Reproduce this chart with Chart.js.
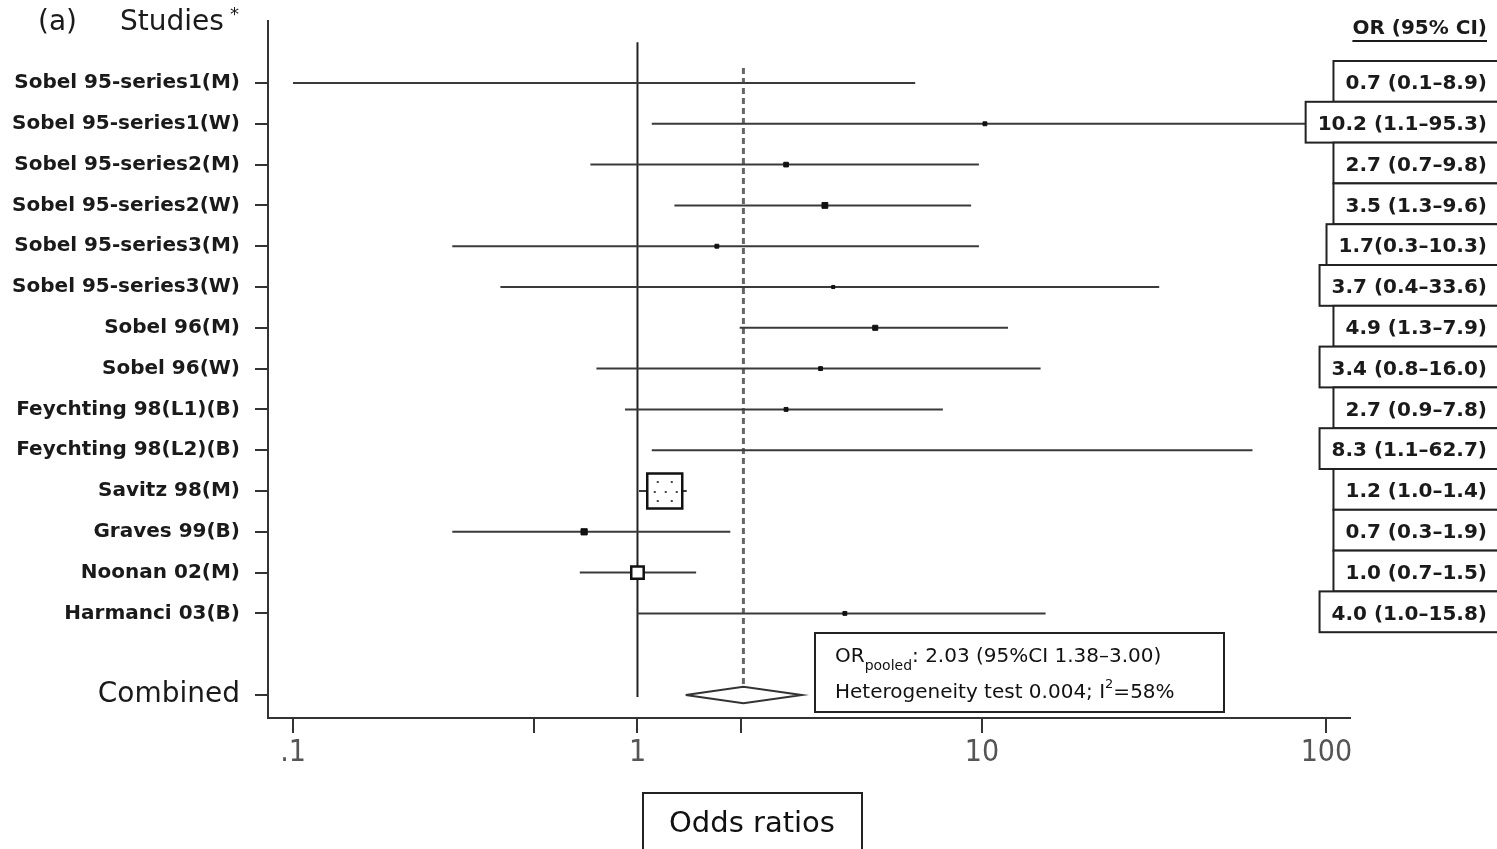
<!DOCTYPE html>
<html>
<head>
<meta charset="utf-8">
<script src="https://cdn.jsdelivr.net/npm/chart.js@4/dist/chart.umd.min.js"></script>
<style>
  html, body { margin: 0; padding: 0; background: #fff; }
  #wrap { width: 1497px; height: 849px; position: relative; }
</style>
</head>
<body>
<div id="wrap"><canvas id="forestChart"></canvas></div>
<script>
// Study rows (top to bottom)
const studies = [
    'Sobel 95-series1(M)', 'Sobel 95-series1(W)', 'Sobel 95-series2(M)', 'Sobel 95-series2(W)',
    'Sobel 95-series3(M)', 'Sobel 95-series3(W)', 'Sobel 96(M)', 'Sobel 96(W)',
    'Feychting 98(L1)(B)', 'Feychting 98(L2)(B)', 'Savitz 98(M)', 'Graves 99(B)',
    'Noonan 02(M)', 'Harmanci 03(B)'
];
const orLabels = [
    '0.7 (0.1\u20138.9)', '10.2 (1.1\u201395.3)', '2.7 (0.7\u20139.8)', '3.5 (1.3\u20139.6)',
    '1.7(0.3\u201310.3)', '3.7 (0.4\u201333.6)', '4.9 (1.3\u20137.9)', '3.4 (0.8\u201316.0)',
    '2.7 (0.9\u20137.8)', '8.3 (1.1\u201362.7)', '1.2 (1.0\u20131.4)', '0.7 (0.3\u20131.9)',
    '1.0 (0.7\u20131.5)', '4.0 (1.0\u201315.8)'
];
// values as drawn in the plot
const orValues = [0.7, 10.2, 2.7, 3.5, 1.7, 3.7, 4.9, 3.4, 2.7, 8.3, 1.2, 0.7, 1.0, 4.0];
const ciLower  = [0.1, 1.1, 0.73, 1.28, 0.29, 0.40, 1.98, 0.76, 0.92, 1.1, 1.01, 0.29, 0.68, 1.0];
const ciUpper  = [6.4, 95.3, 9.8, 9.3, 9.8, 32.7, 11.9, 14.8, 7.7, 61, 1.39, 1.86, 1.48, 15.3];
const boxWeights = [0, 1, 1.2, 1.5, 1, 0.8, 1.3, 1, 1, 0, 9, 1.6, 3.2, 1];

const pooledOR = 2.03;
const pooledLower = 1.38;
const pooledUpper = 3.00;

const xTickValues = [0.1, 0.5, 1, 2, 10, 100];
const xTickLabels = ['.1', '', '1', '', '10', '100'];

const COMBINED_ROW = 15;

document.addEventListener('DOMContentLoaded', function () {
    const canvas = document.getElementById('forestChart');
    const ctx = canvas.getContext('2d');

    const rowTicks = studies.map((s, i) => i).concat([COMBINED_ROW]);

    // one dataset per confidence interval
    const ciSets = studies.map((s, i) => ({
        label: s,
        data: [{ x: ciLower[i], y: i }, { x: ciUpper[i], y: i }],
        showLine: true,
        borderColor: '#3a3a3a',
        borderWidth: 2,
        pointRadius: 0
    }));

    // pin the row grid: first row 83px from the top, 40.8px per row
    const rowLayout = {
        id: 'rowLayout',
        afterLayout(chart) {
            const a = chart.chartArea;
            const ys = chart.scales.y;
            const pitch = 40.8;
            ys.min = -(83 - a.top) / pitch;
            ys.max = ys.min + (a.bottom - a.top) / pitch;
            ys.configure();
        }
    };

    // OR text boxes at the right, the header and the notes
    const textPlugin = {
        id: 'forestText',
        afterDatasetsDraw(chart) {
            const c = chart.ctx;
            const y = chart.scales.y;
            const xs = chart.scales.x;
            const area = chart.chartArea;
            c.save();

            // left axis line runs a little above the plot area
            c.fillStyle = '#333';
            if (area.top > 20) c.fillRect(area.left - 1, 20, 2, area.top - 20 + 1);

            // speckle inside the large Savitz box
            const sx = xs.getPixelForValue(orValues[10]);
            const sy = y.getPixelForValue(10);
            c.fillStyle = '#444';
            [[-8, -10], [6, -10], [-11, 0], [0, 0], [11, 0], [-8, 9], [6, 9]].forEach(d => {
                c.fillRect(sx + d[0], sy + d[1], 2, 2);
            });

            c.textBaseline = 'middle';

            // per-study OR boxes
            c.font = 'bold 20px "DejaVu Sans"';
            c.textAlign = 'right';
            studies.forEach((s, i) => {
                const py = y.getPixelForValue(i);
                const w = c.measureText(orLabels[i]).width;
                const left = 1487 - w - 12;
                c.fillStyle = '#fff';
                c.strokeStyle = '#222';
                c.lineWidth = 2;
                c.fillRect(left, py - 22, 1510 - left, 40.8);
                c.strokeRect(left, py - 22, 1510 - left, 40.8);
                c.fillStyle = '#1a1a1a';
                c.fillText(orLabels[i], 1487, py + 1);
            });

            // header
            c.font = 'bold 20px "DejaVu Sans"';
            c.fillText('OR (95% CI)', 1487, 29);
            const hw = c.measureText('OR (95% CI)').width;
            c.fillRect(1487 - hw, 40, hw, 2);

            c.textAlign = 'left';
            c.font = '28px "DejaVu Sans"';
            c.fillText('(a)', 38, 23);
            c.fillText('Studies', 120, 23);
            c.font = '18px "DejaVu Sans"';
            c.fillText('*', 230, 15);

            // pooled estimate note
            c.fillStyle = '#fff';
            c.fillRect(815, 633, 409, 79);
            c.strokeStyle = '#222';
            c.strokeRect(815, 633, 409, 79);
            c.fillStyle = '#111';
            c.textBaseline = 'alphabetic';
            let x = 835;
            c.font = '20px "DejaVu Sans"';
            c.fillText('OR', x, 662);
            x += c.measureText('OR').width;
            c.font = '14px "DejaVu Sans"';
            c.fillText('pooled', x, 670);
            x += c.measureText('pooled').width;
            c.font = '20px "DejaVu Sans"';
            c.fillText(': ' + pooledOR.toFixed(2) + ' (95%CI ' + pooledLower.toFixed(2) + '\u2013' + pooledUpper.toFixed(2) + ')', x, 662);
            x = 835;
            const part1 = 'Heterogeneity test 0.004; I';
            c.fillText(part1, x, 698);
            x += c.measureText(part1).width;
            c.font = '13px "DejaVu Sans"';
            c.fillText('2', x, 688);
            x += c.measureText('2').width;
            c.font = '20px "DejaVu Sans"';
            c.fillText('=58%', x, 698);

            // axis title box
            c.strokeRect(643, 793, 219, 70);
            c.font = '29px "DejaVu Sans"';
            c.textAlign = 'center';
            c.textBaseline = 'middle';
            c.fillText('Odds ratios', 752, 824);
            c.restore();
        }
    };

    new Chart(ctx, {
        type: 'scatter',
        data: {
            datasets: [
                {
                    label: 'OR',
                    data: orValues.map((v, i) => ({ x: v, y: i })),
                    pointStyle: 'rect',
                    pointRadius: boxWeights.map(w => w * 2.75),
                    backgroundColor: boxWeights.map(w => w > 3 ? '#fff' : '#111'),
                    borderColor: '#111',
                    borderWidth: boxWeights.map(w => w > 3 ? 2.5 : 1)
                },
                {
                    label: 'Combined',
                    data: [
                        { x: pooledLower, y: COMBINED_ROW },
                        { x: pooledOR, y: COMBINED_ROW - 0.2 },
                        { x: pooledUpper, y: COMBINED_ROW },
                        { x: pooledOR, y: COMBINED_ROW + 0.2 },
                        { x: pooledLower, y: COMBINED_ROW }
                    ],
                    showLine: true,
                    borderColor: '#333',
                    borderWidth: 2,
                    pointRadius: 0
                },
                ...ciSets,
                {
                    label: 'pooled line',
                    data: [{ x: pooledOR, y: -0.37 }, { x: pooledOR, y: 14.8 }],
                    showLine: true,
                    borderColor: '#666',
                    borderWidth: 3,
                    borderDash: [6, 4],
                    pointRadius: 0
                },
                {
                    label: 'no effect',
                    data: [{ x: 1, y: -1.0 }, { x: 1, y: 15.05 }],
                    showLine: true,
                    borderColor: '#222',
                    borderWidth: 2,
                    pointRadius: 0
                }
            ]
        },
        options: {
            responsive: true,
            maintainAspectRatio: false,
            animation: false,
            layout: { padding: { top: 20, right: 147, left: 0, bottom: 0 } },
            plugins: {
                legend: { display: false },
                tooltip: { enabled: false }
            },
            scales: {
                x: {
                    type: 'logarithmic',
                    bounds: 'data',
                    min: 0.08461,
                    max: 117.06,
                    afterBuildTicks: function (scale) {
                        scale.ticks = xTickValues.map(v => ({ value: v }));
                    },
                    afterFit: function (scale) {
                        scale.height = 131;
                    },
                    border: { display: true, color: '#333', width: 2 },
                    grid: { drawOnChartArea: false, drawTicks: true, tickLength: 15, color: '#333', lineWidth: 2 },
                    ticks: {
                        autoSkip: false,
                        maxRotation: 0,
                        padding: 2,
                        color: '#555',
                        font: { family: '"Liberation Sans Narrow", "DejaVu Sans Condensed", sans-serif', size: 30 },
                        callback: function (value, index) {
                            return xTickLabels[index];
                        }
                    }
                },
                y: {
                    type: 'linear',
                    reverse: true,
                    bounds: 'data',
                    min: -1.4,
                    max: 15.6,
                    afterBuildTicks: function (scale) {
                        scale.ticks = rowTicks.map(v => ({ value: v }));
                    },
                    afterFit: function (scale) {
                        scale.width = 268;
                    },
                    border: { display: true, color: '#333', width: 2 },
                    grid: { drawOnChartArea: false, drawTicks: true, tickLength: 13, color: '#333', lineWidth: 2 },
                    ticks: {
                        padding: 15,
                        color: '#1a1a1a',
                        font: function (context) {
                            if (context.tick && context.tick.value === COMBINED_ROW) {
                                return { family: '"DejaVu Sans"', size: 28, weight: 'normal' };
                            }
                            return { family: '"DejaVu Sans"', size: 20, weight: 'bold' };
                        },
                        callback: function (value) {
                            return value === COMBINED_ROW ? 'Combined' : studies[value];
                        }
                    }
                }
            }
        },
        plugins: [rowLayout, textPlugin]
    });
});
</script>
</body>
</html>
